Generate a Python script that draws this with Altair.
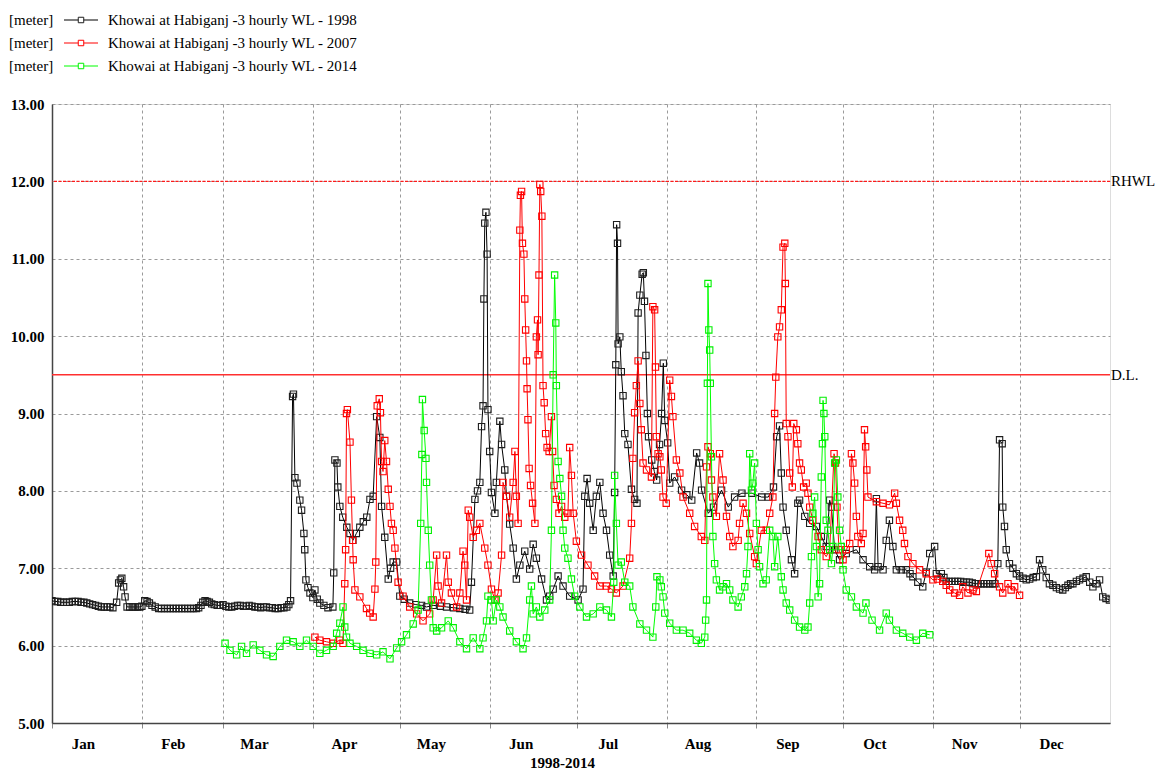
import json
import pandas as pd
import altair as alt

# ---------------- data (day of year, water level in metres) ----------------
black_day = [0, 1, 2, 3, 4, 5, 6, 7, 8, 9, 10, 11, 12, 13, 14, 15, 16, 17, 18, 19, 20, 21, 22.3, 23.0, 23.6, 24.1,
             24.7, 25.2, 25.9, 26.8, 27.7, 28.6, 29.5, 30.3, 31.0, 32.0, 32.8, 33.6, 34.5, 35.6, 36.8, 37.8, 38.8,
             39.8, 40.8, 41.8, 42.8, 43.8, 44.8, 45.8, 46.8, 47.8, 48.8, 49.8, 50.6, 51.4, 52.0, 52.8, 53.5, 54.3,
             55.1, 56, 57, 58, 59, 60, 61, 62, 63, 64, 65, 66, 67, 68, 69, 70, 71, 72, 73, 74, 75, 76, 77, 78, 79,
             80, 81, 81.7, 82.3, 83.0,
             83.3, 83.8, 84.5, 85.5, 86.1, 86.9, 87.2, 87.6, 88.3, 89.0, 90.0, 90.7, 91.5, 92.4, 93.8, 95.2, 96.9,
             97.2, 97.6, 98.3, 98.6, 99.3, 100.3, 101.7, 102.8, 103.8, 105.0, 106.2, 107.4, 108.6, 109.7, 110.8,
             112.0, 113.1, 113.7, 114.8, 116.0, 116.8, 117.7, 118.9, 120.0, 121.5, 123.4, 125.5, 127.5, 129.2,
             131.5, 134.0, 136.1, 138.5, 140.7, 142.5, 144.1, 144.7, 145.9, 146.8, 147.6, 148.2, 148.7, 149.0,
             149.3, 149.7, 150.1, 150.4, 151.0, 151.6, 152.8, 153.3, 154.5, 155.1, 156.2, 156.8, 157.9, 159.1,
             160.2, 161.4, 163.1, 164.8, 166.0, 167.1, 168.9, 170.6, 171.7, 172.9, 174.6, 176.3, 178.6, 181.5,
             183.2, 183.8, 184.6, 185.5, 186.7, 187.8, 189.0, 190.1, 191.3, 192.4, 193.6, 194.1, 194.5, 194.8,
             195.1, 195.3, 195.9, 196.4, 197.0, 197.6, 198.7, 199.9, 201.0, 201.8, 202.2, 202.8, 203.6, 204.0,
             204.4, 204.9, 205.4, 205.8, 206.9, 207.8, 208.6, 209.6, 210.3, 210.9, 211.4, 212.4, 213.1, 214.8,
             217.2, 219.0, 220.7, 222.4, 223.4, 224.1, 226.4, 228.2, 231.0, 233.3, 235.5, 238.0, 241.4, 244.8,
             247.1, 248.9, 250.0, 251.0, 251.6, 252.2, 253.3, 255.1, 256.2, 257.3, 257.9, 259.7, 261.4, 263.7,
             265.4, 267.1, 268.3, 268.9, 270.0, 271.7, 274.0, 277.5, 279.8, 282.1, 283.8, 284.4, 285.0, 286.7,
             287.8, 288.9, 290.1, 291.3, 293.0, 294.7, 296.0, 297.0, 298.7, 300.4, 301.6, 302.8, 304.5, 305.1,
             306.8, 307.7, 308.5, 309.5, 310.5, 311.5, 312.5, 313.5, 314.5, 315.5, 316.5, 317.5, 318.5, 319.5,
             320.5, 321.5, 322.5, 323.5, 324.5, 325.3, 326.3, 326.9, 327.8, 328.0, 328.6, 329.2, 330.3, 331.5,
             332.7, 333.8, 335.0, 336.1, 337.3, 338.5, 339.6, 340.7, 341.8, 343.0, 344.1, 345.3, 346.5, 347.6,
             348.7, 349.6, 350.5, 351.4, 352.2, 353.4, 354.5, 355.7, 356.8, 358.0, 359.1, 360.2, 361.4, 362.5,
             363.6, 364.8]
black_wl = [6.58, 6.57, 6.57, 6.56, 6.56, 6.56, 6.56, 6.57, 6.57, 6.57, 6.56, 6.56, 6.55, 6.54, 6.53, 6.52, 6.51,
            6.50, 6.50, 6.50, 6.50, 6.49, 6.56, 6.81, 6.85, 6.87,
            6.76, 6.63, 6.50, 6.50, 6.50, 6.50, 6.50, 6.50, 6.51, 6.58, 6.57, 6.55, 6.52, 6.50, 6.48, 6.48, 6.48,
            6.48, 6.48, 6.48, 6.48, 6.48, 6.48, 6.48, 6.48, 6.48, 6.48, 6.48, 6.49, 6.52, 6.56, 6.58, 6.57, 6.56,
            6.54, 6.53, 6.52, 6.52, 6.53, 6.51, 6.50, 6.50, 6.51, 6.52, 6.52, 6.51, 6.51, 6.52, 6.51, 6.50, 6.50,
            6.49, 6.50, 6.50, 6.49, 6.49, 6.48, 6.48, 6.49,
            6.49, 6.50, 6.53, 6.58, 9.22,
            9.25, 8.17, 8.10, 7.88, 7.75, 7.45, 7.24, 6.85, 6.75, 6.68, 6.62, 6.72, 6.60, 6.55, 6.52, 6.49, 6.50,
            6.94, 8.40, 8.36, 8.05, 7.80, 7.66, 7.53, 7.45, 7.36, 7.45, 7.53, 7.60, 7.66, 7.89, 7.93,
            8.96, 8.69, 7.80, 7.40, 6.86, 7.00, 7.08, 7.08, 6.64, 6.60, 6.55, 6.53, 6.52, 6.50,
            6.52, 6.51, 6.50, 6.49, 6.48, 6.47, 6.46, 6.82, 7.89, 8.00, 8.11, 8.83, 9.10, 10.48,
            11.46, 11.60, 11.06, 9.05, 8.51, 7.98, 7.71, 8.11, 8.90, 8.60, 8.27, 7.93, 7.57, 7.26,
            6.86, 7.04, 7.22, 6.99, 7.31, 7.13, 6.86, 6.59, 6.64, 6.73, 6.90, 6.77, 6.64, 6.59,
            6.73, 7.93, 8.16, 7.84, 7.49, 7.93, 8.11, 7.71, 7.49, 7.17, 6.90, 7.98, 9.63, 11.44,
            11.20, 9.90, 9.99, 9.54, 9.23, 8.74, 8.60, 8.02, 7.89, 7.84, 10.30, 10.53, 10.80, 10.82,
            10.45, 9.75, 9.00, 8.70, 8.40, 8.25, 8.14, 8.60, 9.00, 9.65, 8.91, 8.62, 8.10, 8.18,
            8.01, 7.95, 7.88, 8.49, 8.36, 8.01, 7.71, 7.79, 8.01, 7.79, 7.92, 7.97, 7.97, 7.92,
            7.92, 8.05, 8.70, 8.84, 8.23, 7.79, 7.49, 7.11, 6.93, 7.84, 7.88, 7.67, 7.58, 7.54,
            7.41, 7.28, 7.88, 7.79, 7.24, 7.11, 7.19, 7.24, 7.11, 7.02, 6.98, 7.90, 7.02, 6.98,
            7.36, 7.62, 7.28, 6.98, 6.98, 6.98, 6.93, 6.89, 6.82, 6.76, 6.95, 7.19, 7.28, 6.93,
            6.93, 6.88, 6.83, 6.83, 6.83, 6.83, 6.83, 6.83, 6.82, 6.82, 6.82, 6.81, 6.80, 6.80,
            6.80, 6.80, 6.80, 6.80, 6.80, 6.80, 7.06, 8.66, 8.61, 7.79, 7.54, 7.24, 7.06, 7.00,
            6.93, 6.90, 6.87, 6.85, 6.86, 6.88, 6.89, 7.11, 6.98, 6.88, 6.80, 6.78, 6.75, 6.73,
            6.72, 6.75, 6.78, 6.80, 6.80, 6.83, 6.85, 6.87, 6.89, 6.82, 6.76, 6.80, 6.85, 6.63,
            6.61, 6.59]

red_day = [90.7, 92.4, 94.7, 97.0, 99.3, 100.4, 101.0, 101.3, 101.6, 101.9, 102.8, 103.3, 103.7, 103.9, 104.5, 106.2,
           108.5, 109.6, 110.8, 111.4, 111.7, 112.2, 112.9, 113.3, 113.7, 114.2, 114.8, 115.4, 116.0, 116.6, 117.1,
           117.7, 118.3, 119.4, 121.1, 123.4, 125.8, 128.0, 130.3, 131.5, 132.7, 133.2, 134.4, 136.1, 136.7, 137.8,
           139.6, 140.7, 141.8, 142.4, 143.0, 143.6, 144.1, 145.3, 146.4, 147.6, 149.3, 150.4, 151.6, 152.8, 153.9,
           155.1, 155.6, 156.8, 157.9, 159.1, 159.7, 160.2, 160.8, 161.4, 161.6, 162.0, 162.3, 162.8, 163.1, 163.4,
           163.7, 163.9, 164.2, 164.6, 165.1, 165.8, 166.6, 167.1, 167.5, 167.7, 168.0, 168.3, 168.6, 169.0, 169.4,
           169.8, 170.3, 170.8, 171.5, 172.3, 172.7, 173.2, 174.0, 174.9, 175.8, 176.9, 178.0, 178.6, 179.2, 179.8,
           180.9, 182.7, 184.9, 187.2, 189.0, 191.3, 193.0, 194.7, 197.0, 199.3, 199.9, 200.4, 201.0, 201.6, 202.2,
           202.8, 203.3, 203.9, 205.1, 206.8, 207.3, 207.9, 208.2, 208.5, 209.1, 209.7, 210.2, 210.8, 211.9, 213.1,
           213.7, 214.2, 215.4, 216.6, 217.7, 220.0, 221.7, 224.0, 225.2, 225.8, 226.3, 227.1, 227.5, 228.0, 229.2,
           230.3, 231.5, 232.7, 233.8, 234.9, 236.7, 237.2, 238.4, 239.6, 240.7, 242.4, 243.0, 244.7, 246.4, 247.6,
           248.7, 249.3, 249.7, 250.4, 251.0, 251.6, 252.2, 252.8, 253.0, 253.3, 253.9, 254.5, 255.4, 255.9, 256.8,
           257.3, 257.9, 258.5, 259.3, 260.2, 260.8, 261.4, 262.5, 264.3, 265.4, 267.1, 268.3, 269.8, 270.3, 270.8,
           271.5, 272.9, 274.0, 275.2, 275.8, 276.3, 276.9, 277.5, 278.0, 279.2, 279.8, 280.3, 280.7, 281.1, 281.5,
           284.4, 286.7, 288.9, 290.7, 291.3, 292.4, 293.5, 294.1, 295.3, 297.0, 299.3, 301.6, 303.9, 305.5, 307.3,
           308.5, 309.7, 311.4, 313.1, 314.2, 316.0, 317.7, 318.9, 323.2, 324.0, 325.2, 326.9, 328.0, 329.8, 330.9,
           332.1, 333.8]
red_wl = [6.11, 6.07, 6.05, 6.03, 6.07, 6.03, 6.80, 7.24, 9.00, 9.05, 8.63, 7.88, 7.36, 7.11, 6.72, 6.63,
          6.48, 6.42, 6.37, 6.73, 7.08, 9.10, 9.19, 9.01, 8.38, 8.25, 8.65, 8.38, 8.02, 7.80, 7.58,
          7.49, 7.26, 6.82, 6.64, 6.50, 6.41, 6.32, 6.41, 6.59, 7.17, 6.77, 6.55, 7.17, 6.82, 6.68,
          6.50, 6.68, 7.22, 7.04, 6.59, 7.75, 7.66, 7.40, 7.49, 7.58, 7.26, 7.04, 6.73, 6.59, 6.68,
          7.17, 8.11, 7.93, 7.66, 8.11, 8.51, 7.93, 7.58, 11.37, 11.82, 11.87, 11.20, 11.06, 10.48, 10.08,
          9.68, 9.32, 8.92, 8.29, 8.07, 7.84, 7.58, 9.99, 10.21, 9.76, 10.79, 11.96, 11.87, 11.55, 9.36,
          9.14, 8.74, 8.56, 8.51, 8.96, 8.51, 8.07, 7.89, 7.71, 7.80, 7.66, 7.71, 8.56, 8.20, 7.71,
          7.35, 7.17, 7.04, 6.90, 6.77, 6.77, 6.73, 6.68, 6.77, 7.13, 7.58, 8.42, 9.01, 9.36, 9.68,
          9.13, 8.79, 8.36, 8.27, 8.18, 10.38, 10.34, 9.60, 8.70, 8.48, 8.44, 8.27, 7.92, 7.84, 9.43,
          9.22, 8.96, 8.40, 8.23, 7.92, 7.71, 7.54, 7.41, 7.36, 8.31, 8.57, 8.48, 8.14, 7.92, 7.67,
          8.48, 8.14, 7.67, 7.41, 7.28, 7.36, 7.58, 7.84, 7.71, 7.45, 7.15, 7.06, 7.49, 7.49, 7.71,
          7.92, 9.00, 9.47, 9.99, 10.12, 10.34, 11.15, 11.20, 10.68, 8.87, 8.70, 8.23, 8.05, 8.87, 8.79,
          8.61, 8.36, 8.27, 8.05, 8.10, 7.97, 7.79, 7.62, 7.41, 7.24, 7.15, 7.24, 8.48, 8.36, 7.79,
          7.24, 7.11, 7.24, 7.32, 8.48, 8.36, 8.10, 7.67, 7.41, 7.32, 7.45, 8.79, 8.57, 8.27, 7.92,
          7.86, 7.84, 7.82, 7.97, 7.84, 7.62, 7.49, 7.32, 7.15, 7.06, 6.98, 6.93, 6.85, 6.86, 6.83,
          6.78, 6.72, 6.68, 6.65, 6.76, 6.68, 6.72, 6.70, 7.19, 7.06, 6.93, 6.76, 6.68, 6.80, 6.72,
          6.76, 6.65]

green_day = [59.7, 61.4, 63.7, 65.4, 67.1, 69.4, 71.7, 74.0, 76.3, 78.6, 80.9, 83.2, 85.5, 87.8, 90.1, 92.4, 94.7,
             97.0, 98.2, 99.3, 100.4, 101.0, 101.6, 102.8, 105.1, 107.3, 109.7, 112.0, 114.2, 116.6, 118.9, 120.6,
             122.3, 124.6, 126.3, 127.2, 127.6, 127.8, 128.4, 129.0, 129.2, 129.8, 130.3, 130.9, 131.5, 132.7,
             134.4, 136.7, 138.4, 140.7, 143.0, 145.3, 147.6, 148.7, 149.9, 150.4, 151.6, 152.2, 153.3, 154.5,
             155.6, 157.9, 160.2, 162.5, 163.7, 164.8, 165.4, 166.0, 167.1, 168.3, 170.0, 171.7, 172.3, 172.9,
             173.4, 173.8, 174.0, 174.6, 175.2, 175.8, 176.3, 176.9, 178.0, 179.2, 180.3, 182.1, 184.4, 186.7,
             189.0, 191.3, 193.0, 193.8, 194.1, 194.7, 195.3, 196.4, 197.6, 199.3, 200.4, 202.8, 205.1, 207.3,
             208.3, 208.7, 209.7, 210.2, 210.8, 211.4, 213.1, 215.4, 217.7, 220.0, 222.3, 224.0, 225.2, 225.5,
             225.8, 226.1, 226.3, 226.6, 226.9, 227.1, 227.5, 228.0, 228.6, 229.2, 230.3, 231.5, 232.7, 233.8,
             234.9, 236.7, 237.8, 239.0, 239.6, 240.1, 240.7, 241.3, 241.8, 242.4, 243.0, 243.6, 244.1, 245.3,
             246.4, 247.6, 248.7, 249.3, 250.4, 251.6, 252.2, 253.3, 254.5, 256.2, 257.9, 259.7, 260.8, 261.4,
             262.0, 262.5, 263.1, 263.7, 264.3, 264.8, 265.4, 265.8, 266.0, 266.3, 266.6, 267.1, 267.7, 268.3,
             268.9, 269.4, 270.0, 270.6, 271.1, 271.7, 272.3, 272.9, 274.0, 275.8, 277.5, 279.8, 280.8, 282.9,
             285.5, 287.8, 288.9, 291.3, 293.5, 295.9, 298.2, 300.4, 302.8]
green_wl = [6.03, 5.94, 5.88, 5.99, 5.90, 6.01, 5.94, 5.88, 5.86, 5.99, 6.07, 6.05, 5.99, 6.07, 5.99, 5.90, 5.94,
            5.99, 6.16, 6.29, 6.50, 6.24, 6.11, 6.03, 5.99, 5.94, 5.90, 5.88, 5.92, 5.83, 5.97, 6.05,
            6.14, 6.28, 6.46, 7.58, 8.47, 9.18, 8.78, 8.42, 8.11, 7.49, 7.04, 6.59, 6.23, 6.19,
            6.23, 6.32, 6.23, 6.05, 5.96, 6.10, 5.96, 6.10, 6.32, 6.64, 6.59, 6.32, 6.59, 6.50,
            6.37, 6.19, 6.05, 5.96, 6.10, 6.59, 6.77, 6.41, 6.50, 6.37, 6.46, 6.59, 7.49, 9.50,
            10.79, 10.17, 9.36, 8.38, 8.16, 7.93, 7.49, 7.26, 7.13, 6.86, 6.64, 6.50, 6.37, 6.41,
            6.50, 6.46, 6.37, 6.82, 8.20, 7.58, 7.04, 7.08, 6.82, 6.77, 6.50, 6.28, 6.20, 6.11,
            6.50, 6.89, 6.85, 6.76, 6.63, 6.42, 6.29, 6.20, 6.20, 6.16, 6.07, 6.03, 6.11, 6.33,
            6.59, 9.39, 10.68, 10.08, 9.82, 9.39, 8.44, 7.41, 7.06, 6.85, 6.72, 6.76, 6.80, 6.72,
            6.59, 6.50, 6.63, 6.76, 6.93, 7.28, 8.48, 8.01, 8.10, 8.36, 7.58, 7.24, 7.02, 6.80,
            6.85, 7.49, 7.41, 7.02, 7.41, 6.89, 6.72, 6.55, 6.46, 6.33, 6.24, 6.20, 6.24, 6.55,
            7.15, 7.71, 7.92, 7.28, 6.63, 6.80, 8.18, 8.61, 9.17, 9.00, 8.70, 7.62, 7.49, 7.24,
            7.06, 7.28, 8.36, 8.40, 7.92, 7.49, 7.28, 6.98, 6.72, 6.63, 6.50, 6.42, 6.55, 6.33,
            6.20, 6.42, 6.33, 6.20, 6.16, 6.11, 6.07, 6.16, 6.14]

series_names = ["Khowai at Habiganj -3 hourly WL - 1998",
                "Khowai at Habiganj -3 hourly WL - 2007",
                "Khowai at Habiganj -3 hourly WL - 2014"]
line_colors = ["#000000", "#ff0000", "#00ff00"]
marker_colors = ["#1e1e1e", "#ff0000", "#00f000"]
unit_label = "[meter]"

month_starts = [0, 31, 59, 90, 120, 151, 181, 212, 243, 273, 304, 334]
month_labels = ["Jan", "Feb", "Mar", "Apr", "May", "Jun", "Jul", "Aug", "Sep", "Oct", "Nov", "Dec"]
y_ticks = [5, 6, 7, 8, 9, 10, 11, 12, 13]
x_title = "1998-2014"

ref_levels = [12.0, 9.5]
ref_names = ["RHWL", "D.L."]

# ---------------- chart ----------------
W, H = 1058, 619
FONT = "Liberation Serif"

frames = []
for name, d, v in zip(series_names, [black_day, red_day, green_day], [black_wl, red_wl, green_wl]):
    frames.append(pd.DataFrame({"day": d, "wl": v, "series": name}))
df = pd.concat(frames, ignore_index=True)

ref_df = pd.DataFrame({"wl": ref_levels, "name": ref_names})

label_expr = f"{json.dumps(month_labels)}[indexof({json.dumps(month_starts)}, datum.value)]"

x_enc = alt.X(
    "day:Q",
    scale=alt.Scale(domain=[0, 365], nice=False, zero=False),
    axis=alt.Axis(values=month_starts, labelExpr=label_expr, labelFlush=False, labelOffset=31,
                  labelAlign="center", labelFont=FONT, labelFontSize=15, labelFontWeight="bold",
                  labelColor="#000000", labelPadding=8, tickColor="#888888", tickSize=5,
                  grid=True, gridColor="#9a9a9a", gridDash=[3, 3], gridWidth=1,
                  domainColor="#444444", domainWidth=1.5,
                  title=x_title, titleFont=FONT, titleFontSize=15, titleFontWeight="bold",
                  titleColor="#000000", titleX=510, titleY=44, titleAlign="center",
                  titleBaseline="alphabetic"),
)
y_enc = alt.Y(
    "wl:Q",
    scale=alt.Scale(domain=[5, 13], nice=False, zero=False),
    axis=alt.Axis(values=y_ticks, format=".2f", ticks=False, labelFont=FONT, labelFontSize=15,
                  labelFontWeight="bold", labelColor="#000000", labelPadding=8,
                  grid=True, gridColor="#9a9a9a", gridDash=[3, 3], gridWidth=1,
                  domainColor="#444444", domainWidth=1.5, title=None),
)

layers = []

# reference levels
layers.append(alt.Chart(ref_df).transform_filter(alt.datum.name == ref_names[0])
              .mark_rule(color="#ff1a1a", strokeWidth=1.3, strokeDash=[3, 1.5])
              .encode(y=y_enc))
layers.append(alt.Chart(ref_df).transform_filter(alt.datum.name == ref_names[1])
              .mark_rule(color="#ff3030", strokeWidth=1.5)
              .encode(y=y_enc))

for name, lc, mc in zip(series_names, line_colors, marker_colors):
    base = alt.Chart(df).transform_filter(alt.datum.series == name)
    layers.append(base.mark_line(color=lc, strokeWidth=1, clip=True).encode(x=x_enc, y=y_enc))
    layers.append(base.mark_point(shape="square", filled=False, color=mc, size=40, strokeWidth=1.1,
                                  opacity=1, clip=True).encode(x=x_enc, y=y_enc))

layers.append(alt.Chart(ref_df).mark_text(align="left", baseline="middle", dx=1, font=FONT,
                                          fontSize=15, color="#000000")
              .encode(x=alt.value(W), y=y_enc, text="name:N"))

# legend (top left, above plot)
one = pd.DataFrame({"k": [0]})
legend_rows = [-84, -61, -38]
for name, lc, mc, ly in zip(series_names, line_colors, marker_colors, legend_rows):
    layers.append(alt.Chart(one).mark_text(align="left", baseline="middle", font=FONT, fontSize=15,
                                           color="#000000")
                  .encode(x=alt.value(-43), y=alt.value(ly), text=alt.value(unit_label)))
    layers.append(alt.Chart(one).mark_rule(color=lc, strokeWidth=1.2)
                  .encode(x=alt.value(12), x2=alt.value(46), y=alt.value(ly)))
    layers.append(alt.Chart(one).mark_point(shape="square", filled=True, fill="white", stroke=mc,
                                            size=30, strokeWidth=1, opacity=1)
                  .encode(x=alt.value(29), y=alt.value(ly)))
    layers.append(alt.Chart(one).mark_text(align="left", baseline="middle", font=FONT, fontSize=15,
                                           color="#000000")
                  .encode(x=alt.value(56), y=alt.value(ly), text=alt.value(name)))

chart = alt.layer(*layers).properties(
    width=W, height=H,
    autosize=alt.AutoSizeParams(type="none"),
    padding={"left": 44, "top": 96, "right": 48, "bottom": 46},
).configure_view(stroke="#555555", strokeWidth=1.5).configure(background="white")

chart.save("out.html", embed_options={"renderer": "svg", "actions": False})
